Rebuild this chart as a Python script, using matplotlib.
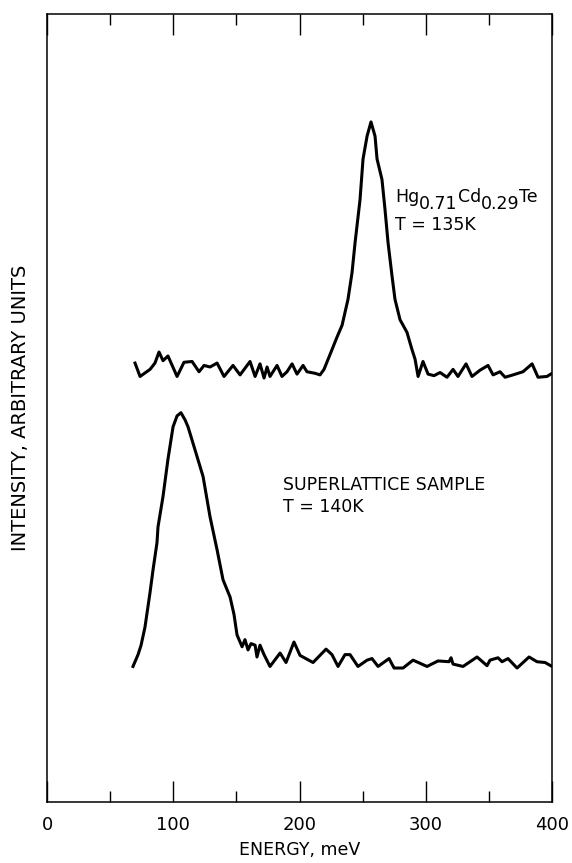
import numpy as np
import matplotlib.pyplot as plt
from matplotlib.ticker import MultipleLocator

# Datos (energia en meV, intensidad en unidades arbitrarias)
energia_hgcdte = [69.7, 73.7, 81.6, 85.5, 88.7, 91.9, 95.8, 103.0, 108.5, 114.9,
                  120.4, 124.4, 129.1, 134.7, 140.2, 147.3, 152.9, 160.8, 164.8, 168.7,
                  171.9, 174.3, 176.6, 182.2, 186.1, 190.1, 194.1, 198.0, 202.8, 205.9,
                  212.3, 216.2, 219.4, 225.7, 229.7, 233.7, 238.4, 241.6, 244.0, 247.9,
                  250.3, 253.5, 256.6, 259.8, 261.4, 265.3, 267.7, 270.1, 273.3, 275.6,
                  279.6, 285.1, 289.1, 291.5, 293.9, 297.8, 301.8, 306.5, 311.3, 316.8,
                  321.6, 325.5, 331.9, 336.6, 343.0, 349.3, 353.3, 358.8, 362.8, 369.1,
                  377.0, 384.2, 388.9, 396.0, 400.0]
intensidad_hgcdte = [55.7, 54.0, 54.9, 55.7, 57.1, 56.0, 56.6, 54.0, 55.8, 55.9,
                     54.6, 55.4, 55.2, 55.7, 54.0, 55.4, 54.2, 55.9, 54.0, 55.6,
                     53.8, 55.2, 54.0, 55.4, 54.0, 54.6, 55.6, 54.3, 55.4, 54.6,
                     54.4, 54.2, 54.9, 57.4, 59.0, 60.5, 63.8, 67.2, 71.0, 76.4,
                     81.6, 84.5, 86.3, 84.5, 81.6, 79.0, 75.2, 71.0, 66.7, 63.8,
                     61.2, 59.6, 57.4, 56.2, 54.0, 55.9, 54.3, 54.1, 54.5, 53.9,
                     54.9, 54.0, 55.6, 54.0, 54.8, 55.4, 54.2, 54.6, 53.9, 54.2,
                     54.6, 55.6, 53.9, 54.0, 54.4]

energia_super = [68.1, 69.7, 72.1, 74.5, 77.6, 81.6, 84.0, 87.1, 87.9, 91.9,
                 95.8, 99.8, 103.0, 106.1, 109.3, 111.7, 117.2, 123.6, 129.1, 134.7,
                 139.4, 145.0, 148.1, 150.5, 154.5, 156.8, 159.2, 161.6, 164.8, 166.3,
                 168.7, 171.9, 176.6, 184.6, 189.3, 195.6, 200.4, 210.7, 221.0, 225.7,
                 230.5, 236.0, 240.0, 246.3, 253.5, 257.4, 262.2, 270.9, 274.9, 282.0,
                 289.9, 301.0, 309.7, 318.4, 320.0, 321.6, 329.5, 340.6, 348.5, 350.9,
                 357.2, 360.4, 365.1, 372.3, 381.8, 388.1, 394.5, 400.0]
intensidad_super = [17.2, 17.8, 18.7, 19.9, 22.2, 26.6, 29.5, 32.9, 34.9, 38.8,
                    43.5, 47.6, 49.0, 49.4, 48.5, 47.6, 44.7, 41.3, 36.2, 32.0,
                    28.2, 26.0, 23.8, 21.2, 19.7, 20.6, 19.3, 20.1, 19.9, 18.4,
                    19.9, 18.7, 17.2, 18.9, 17.7, 20.3, 18.6, 17.7, 19.4, 18.7,
                    17.2, 18.7, 18.7, 17.2, 18.0, 18.2, 17.2, 18.2, 17.0, 17.0,
                    18.0, 17.2, 17.9, 17.8, 18.3, 17.5, 17.2, 18.4, 17.3, 18.0,
                    18.3, 17.8, 18.2, 17.0, 18.4, 17.8, 17.7, 17.2]

# Etiqueta de la aleacion: (texto, desplazamiento vertical en puntos respecto al anterior)
formula = [("Hg", 0), ("0.71", -5), ("Cd", 5), ("0.29", -5), ("Te", 5)]

plt.rcParams['font.family'] = ['DejaVu Sans']

fig = plt.figure(figsize=(5.72, 8.63), dpi=100)
ax = fig.add_axes([0.0822, 0.0707, 0.8829, 0.9131])

ax.plot(energia_hgcdte, intensidad_hgcdte, color="k", lw=2.2, solid_joinstyle="round")
ax.plot(energia_super, intensidad_super, color="k", lw=2.2, solid_joinstyle="round")

ax.set_xlim(0, 400)
ax.set_ylim(0, 100)

# Ticks hacia dentro arriba y abajo, sin marcas en el eje y
ax.xaxis.set_major_locator(MultipleLocator(100))
ax.xaxis.set_minor_locator(MultipleLocator(50))
ax.tick_params(axis="x", which="both", direction="in", top=True, bottom=True,
               width=1.0, labelsize=13, pad=10)
ax.tick_params(axis="x", which="major", length=15)
ax.tick_params(axis="x", which="minor", length=8)
ax.set_yticks([])
for s in ax.spines.values():
    s.set_linewidth(1.1)

ax.set_xlabel("ENERGY, meV", fontsize=12.5, labelpad=5)
ax.set_ylabel("INTENSITY, ARBITRARY UNITS", fontsize=14, labelpad=12)

fs = 12.5
anterior = ax.text(275.5, 75.6, formula[0][0], fontsize=fs, ha="left", va="bottom")
for trozo, dy in formula[1:]:
    anterior = ax.annotate(trozo, xy=(1, 0), xycoords=anterior,
                           xytext=(0, dy), textcoords="offset points",
                           fontsize=fs, ha="left", va="bottom")
ax.text(275.5, 72.6, "T = 135K", fontsize=fs, ha="left", va="baseline")
ax.text(187, 39.6, "SUPERLATTICE SAMPLE", fontsize=fs, ha="left", va="baseline")
ax.text(187, 36.8, "T = 140K", fontsize=fs, ha="left", va="baseline")

fig.savefig("out.png", dpi=100)
